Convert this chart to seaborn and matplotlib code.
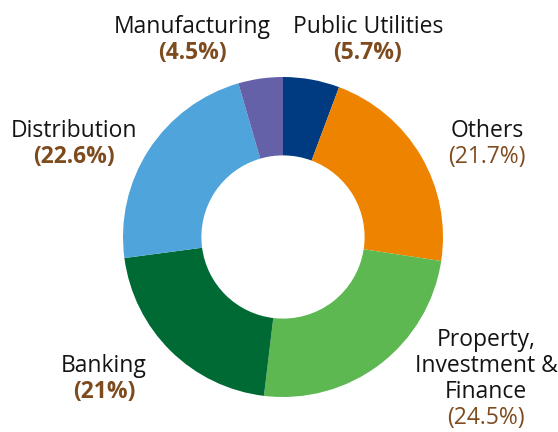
import matplotlib
matplotlib.use("Agg")
import matplotlib.pyplot as plt
import seaborn as sns

sectors = ["Public Utilities", "Others", "Property,\nInvestment &\nFinance", "Banking", "Distribution", "Manufacturing"]
shares = [5.7, 21.7, 24.5, 21.0, 22.6, 4.5]
pct_labels = ["(5.7%)", "(21.7%)", "(24.5%)", "(21%)", "(22.6%)", "(4.5%)"]
colors = ["#003B82", "#EE8300", "#5DB851", "#006A35", "#4FA4DB", "#6561A9"]
pct_bold = [True, False, False, True, True, True]

sns.set_theme(style="white")
plt.rcParams['font.family'] = ['Open Sans', 'DejaVu Sans']

W, H = 558, 432
fig = plt.figure(figsize=(W / 100, H / 100), dpi=100)
ax = fig.add_axes([0, 0, 1, 1])

cx, cy, R = 283, H - 237, 160
ax.pie(shares, colors=colors, startangle=90, counterclock=False,
       center=(cx, cy), radius=R, wedgeprops=dict(width=R * 0.49, linewidth=0),
       frame=True)
ax.set_xlim(0, W)
ax.set_ylim(0, H)
ax.set_aspect('equal')
ax.axis('off')

# label layout (pixel positions, top-left origin): name centre x, name line ys, pct y
layout = {
    0: (368, [27], 53),
    1: (487, [131], 157),
    2: (486, [340, 366, 392], 418),
    3: (104, [366], 392),
    4: (74, [131], 157),
    5: (192, [27], 53),
}
name_color = "#141414"
pct_color = "#7D4B1E"
fs = 16.5
for i, (x, ys, py) in layout.items():
    lines = sectors[i].split("\n")
    for line, y in zip(lines, ys):
        ax.text(x, H - y, line, ha='center', va='center', fontsize=fs, color=name_color)
    ax.text(x, H - py, pct_labels[i], ha='center', va='center', fontsize=fs,
            color=pct_color, fontweight='bold' if pct_bold[i] else 'normal')

fig.savefig("out.png", dpi=100, facecolor='white')
